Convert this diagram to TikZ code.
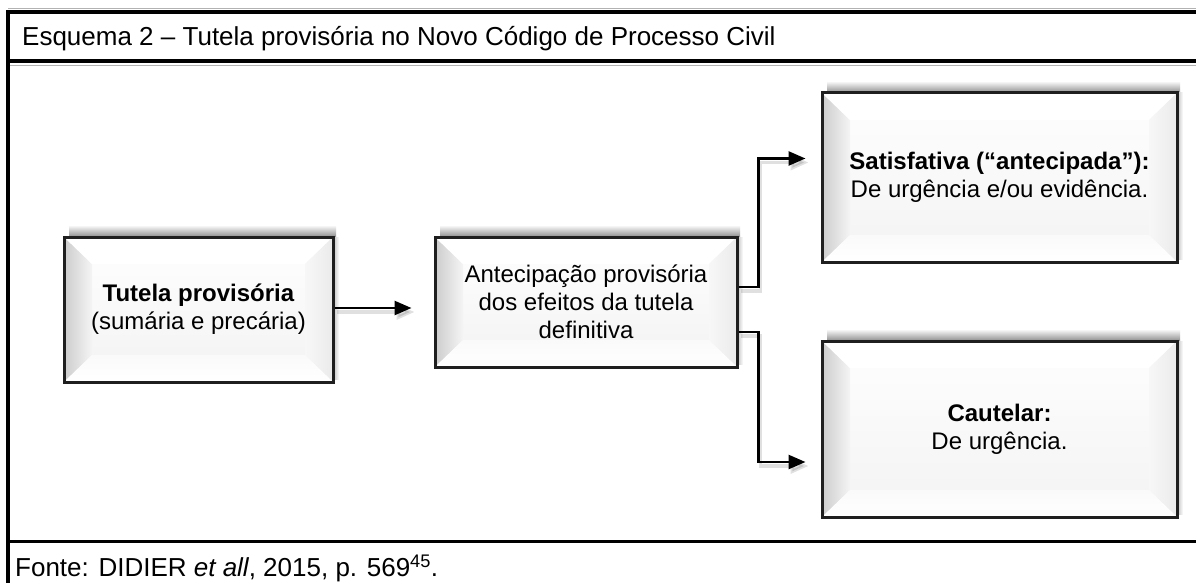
\documentclass[tikz,border=0pt]{standalone}
\usepackage{fontspec}
\setmainfont{Liberation Sans}
\usetikzlibrary{arrows.meta}
\newcommand\boxfont{\fontsize{24}{28}\selectfont}
\newcommand\titlefont{\fontsize{26}{30}\selectfont}
\tikzset{
  frameline/.style={line width=3.5pt, black},
  thinline/.style={line width=0.8pt, black!30},
  conn/.style={line width=2.6pt, black, -{Triangle[length=17pt,width=14pt]}},
  connshadow/.style={line width=3.5pt, black, opacity=0.12, -{Triangle[length=18pt,width=15pt]}},
  boxnode/.style={draw=black!88, line width=3pt, inner sep=0pt, align=center, font=\boxfont},
  plaintext/.style={inner sep=0pt, anchor=base west, font=\titlefont},
}
% name, x1, y1, x2, y2, text
\newcommand\bevbox[6]{%
  \shade[top color=white, bottom color=black!45] (#2+5,#3-12) rectangle (#4+3,#3);
  \shade[left color=black!25, right color=white] (#4,#3) rectangle (#4+6,#5-3);
  \fill[black!3] (#2,#3) rectangle (#4,#5);
  \shade[top color=black!1, bottom color=black!4] (#2+28,#3+27) rectangle (#4-28,#5-27);
  \shade[left color=black!20, right color=black!4] (#2,#3) -- (#2+28,#3+27) -- (#2+28,#5-27) -- (#2,#5) -- cycle;
  \fill[white] (#2,#3) -- (#4,#3) -- (#4-28,#3+27) -- (#2+28,#3+27) -- cycle;
  \shade[left color=black!3, right color=black!8] (#4,#3) -- (#4,#5) -- (#4-28,#5-27) -- (#4-28,#3+27) -- cycle;
  \shade[top color=black!2, bottom color=white] (#2,#5) -- (#4,#5) -- (#4-28,#5-27) -- (#2+28,#5-27) -- cycle;
  \node[boxnode, minimum width={#4-#2}, minimum height={#5-#3}] (#1) at ({(#2+#4)/2},{(#3+#5)/2}) {#6};
}
\begin{document}
\begin{tikzpicture}[x=1pt,y=-1pt]
\useasboundingbox[fill=white] (0,0) rectangle (1196,583);
% frame
\draw[thinline] (8,8) -- (1196,8);
\draw[thinline] (8,65.5) -- (1196,65.5);
\draw[frameline] (1196,12) -- (8,12) -- (8,583);
\draw[frameline] (8,61) -- (1196,61);
\draw[frameline] (8,541.5) -- (1196,541.5);
\node[plaintext] (title) at (22,46) {Esquema 2 – Tutela provisória no Novo Código de Processo Civil};
\node[plaintext] (fonte) at (15,576.5) {Fonte: DIDIER \textit{et all}, 2015, p. 569\textsuperscript{45}.};
% boxes
\bevbox{b1}{64}{237}{333}{382}{\textbf{Tutela provisória}\\(sumária e precária)}
\bevbox{b2}{435}{237}{737}{367}{Antecipação provisória\\dos efeitos da tutela\\definitiva}
\bevbox{b3}{822}{93}{1177}{262}{\textbf{Satisfativa (“antecipada”):}\\De urgência e/ou evidência.}
\bevbox{b4}{822}{341}{1177}{517}{\textbf{Cautelar:}\\De urgência.}
% connector shadows
\draw[connshadow, shorten >=21pt, transform canvas={xshift=2pt,yshift=-4pt}] ([yshift=1.5pt]b1.east) -- ([yshift=1.5pt]b1.east -| b2.west);
\draw[connshadow, shorten >=14pt, transform canvas={xshift=2pt,yshift=-4pt}] ([yshift=15pt]b2.east) -- ++(20,0) |- ([yshift=19pt]b3.west);
\draw[connshadow, shorten >=14pt, transform canvas={xshift=2pt,yshift=-4pt}] ([yshift=-30pt]b2.east) -- ++(20,0) |- ([yshift=-33pt]b4.west);
% connectors
\draw[conn, shorten >=22pt] ([yshift=1.5pt]b1.east) -- ([yshift=1.5pt]b1.east -| b2.west);
\draw[conn, shorten >=15pt] ([yshift=15pt]b2.east) -- ++(20,0) |- ([yshift=19pt]b3.west);
\draw[conn, shorten >=15pt] ([yshift=-30pt]b2.east) -- ++(20,0) |- ([yshift=-33pt]b4.west);
\end{tikzpicture}
\end{document}
